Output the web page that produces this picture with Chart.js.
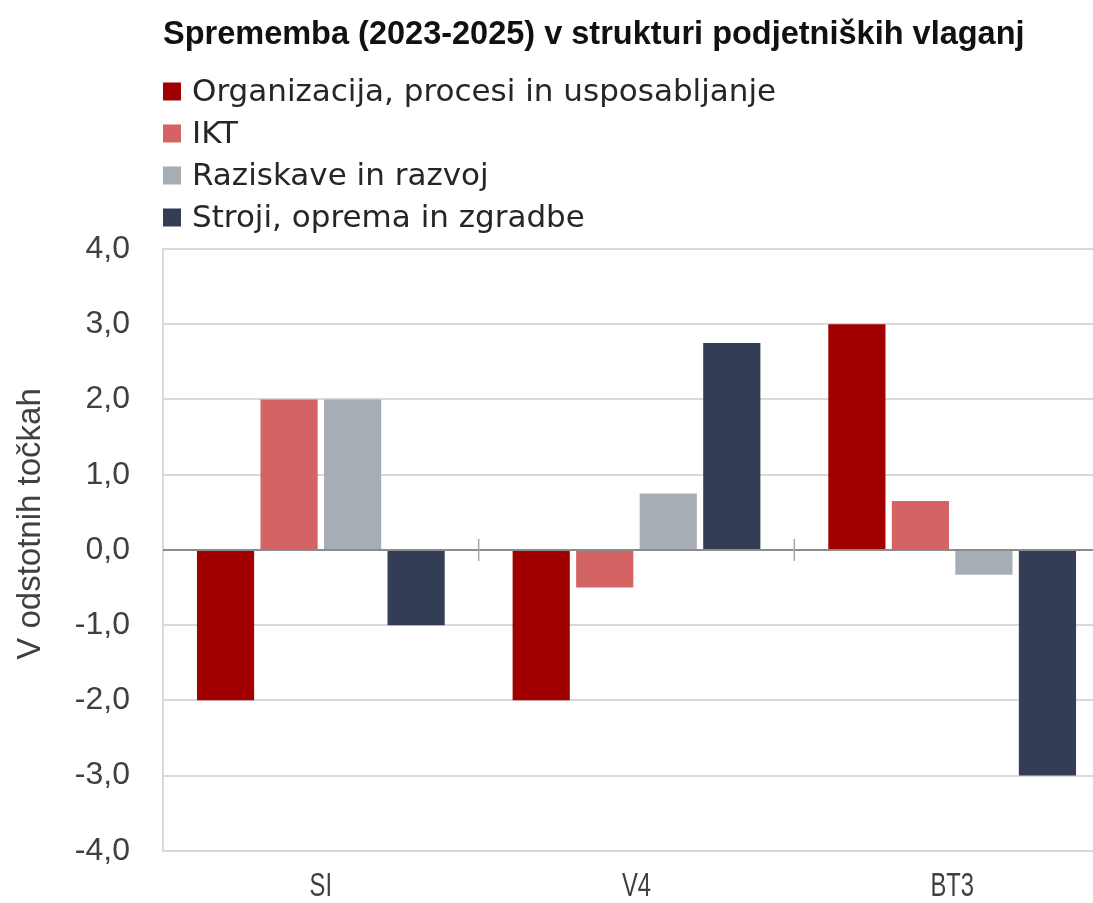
<!DOCTYPE html>
<html lang="sl">
<head>
<meta charset="utf-8">
<title>Sprememba (2023-2025) v strukturi podjetniških vlaganj</title>
<script src="https://cdn.jsdelivr.net/npm/chart.js@4.4.1/dist/chart.umd.min.js"></script>
<style>
  html, body { margin: 0; padding: 0; background: #ffffff; overflow: hidden; }
  #wrap { position: relative; width: 1110px; height: 903px; }
</style>
</head>
<body>
<div id="wrap"><canvas id="c"></canvas></div>
<script>
// Texts
const chartTitle = 'Sprememba (2023-2025) v strukturi podjetniških vlaganj';
const axisTitle = 'V odstotnih točkah';

// Categories and series (change in percentage points)
const categories = ['SI', 'V4', 'BT3'];
const seriesNames = [
  'Organizacija, procesi in usposabljanje',
  'IKT',
  'Raziskave in razvoj',
  'Stroji, oprema in zgradbe'
];
const organizacija = [-2.0, -2.0, 3.0];
const ikt = [2.0, -0.5, 0.65];
const raziskave = [2.0, 0.75, -0.33];
const stroji = [-1.0, 2.75, -3.0];

// Value axis ticks
const yTicks = [-4, -3, -2, -1, 0, 1, 2, 3, 4];

const seriesColors = ['#A00000', '#D46363', '#A7ADB4', '#333D56'];
const seriesValues = [organizacija, ikt, raziskave, stroji];

const fmt = v => Number(v).toFixed(1).replace('.', ',');

// Draws text squeezed horizontally (narrow face look)
function narrowText(ctx, text, x, y, sx) {
  ctx.save();
  ctx.translate(x, y);
  ctx.scale(sx, 1);
  ctx.fillText(text, 0, 0);
  ctx.restore();
}

// Title, legend, axis titles, zero line and category separators
const decor = {
  id: 'decor',
  afterDatasetsDraw(chart) {
    const { ctx, chartArea, scales: { x, y } } = chart;
    const y0 = y.getPixelForValue(0);
    ctx.save();
    ctx.strokeStyle = '#8C8C8C';
    ctx.lineWidth = 2;
    ctx.beginPath();
    ctx.moveTo(chartArea.left, y0);
    ctx.lineTo(chartArea.right, y0);
    ctx.stroke();
    ctx.strokeStyle = '#A6A6A6';
    ctx.lineWidth = 1.5;
    for (let i = 0; i < categories.length - 1; i++) {
      const xp = (x.getPixelForValue(i) + x.getPixelForValue(i + 1)) / 2;
      ctx.beginPath();
      ctx.moveTo(xp, y0 - 11);
      ctx.lineTo(xp, y0 + 11);
      ctx.stroke();
    }
    ctx.restore();
  },
  afterDraw(chart) {
    const { ctx, chartArea, scales: { x } } = chart;
    ctx.save();
    ctx.textAlign = 'left';
    ctx.textBaseline = 'alphabetic';
    ctx.fillStyle = '#111111';
    ctx.font = 'bold 32.5px "Liberation Sans"';
    ctx.fillText(chartTitle, chartArea.left, 44);

    ctx.font = '31px "DejaVu Sans"';
    ctx.textBaseline = 'middle';
    chart.data.datasets.forEach((ds, i) => {
      const cy = 91.5 + i * 42;
      ctx.fillStyle = ds.backgroundColor;
      ctx.fillRect(chartArea.left, cy - 9, 18, 18);
      ctx.fillStyle = '#262626';
      ctx.fillText(ds.label, chartArea.left + 29, cy + 1);
    });

    // category labels
    ctx.font = '33px "Liberation Sans"';
    ctx.fillStyle = '#404040';
    ctx.textAlign = 'center';
    ctx.textBaseline = 'middle';
    chart.data.labels.forEach((lab, i) => {
      narrowText(ctx, lab, x.getPixelForValue(i), chartArea.bottom + 36, 0.72);
    });

    ctx.translate(40, 524);
    ctx.rotate(-Math.PI / 2);
    ctx.textAlign = 'center';
    ctx.textBaseline = 'alphabetic';
    ctx.font = '33px "Liberation Sans"';
    ctx.fillStyle = '#404040';
    ctx.fillText(axisTitle, 0, 0);
    ctx.restore();
  }
};

new Chart(document.getElementById('c'), {
  type: 'bar',
  data: {
    labels: categories,
    datasets: seriesNames.map((name, i) => ({
      label: name,
      data: seriesValues[i],
      backgroundColor: seriesColors[i],
      borderWidth: 0,
      categoryPercentage: 0.805,
      barPercentage: 0.9
    }))
  },
  options: {
    responsive: true,
    maintainAspectRatio: false,
    animation: false,
    layout: { padding: { top: 249, left: 0, right: 0, bottom: 0 } },
    plugins: {
      legend: { display: false },
      title: { display: false },
      tooltip: { enabled: false }
    },
    scales: {
      x: {
        grid: { display: false },
        border: { display: false },
        ticks: { display: false },
        afterFit(s) { s.height = 50; }
      },
      y: {
        min: -4,
        max: 4,
        afterBuildTicks(s) { s.ticks = yTicks.map(v => ({ value: v })); },
        grid: {
          color: c => (c.tick && c.tick.value === 0) ? '#8C8C8C' : '#D9D9D9',
          lineWidth: 2,
          drawTicks: false
        },
        border: { display: true, color: '#D9D9D9', width: 2 },
        ticks: {
          color: '#404040',
          padding: 33,
          font: { family: '"Liberation Sans"', size: 32 },
          callback: v => fmt(v)
        },
        afterFit(s) { s.width = 163; }
      }
    }
  },
  plugins: [decor]
});
</script>
</body>
</html>
